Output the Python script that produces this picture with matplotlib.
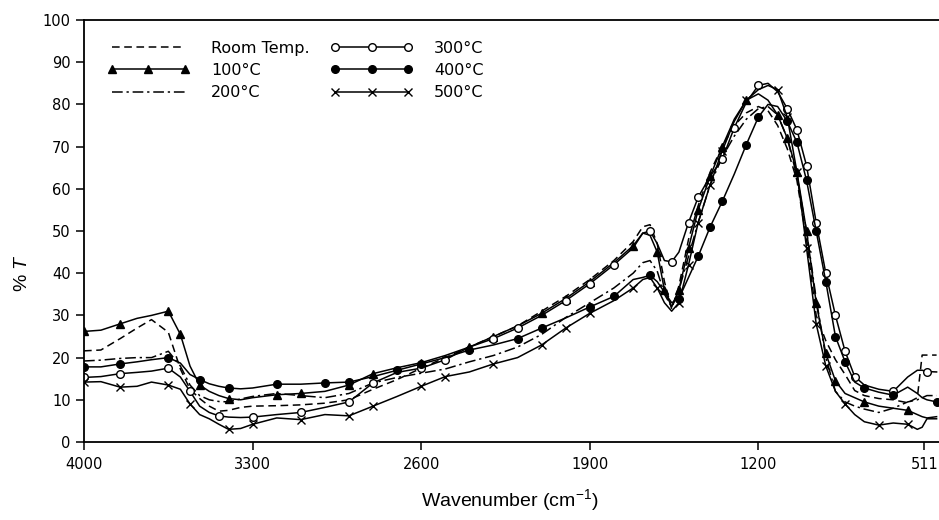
import numpy as np
import matplotlib.pyplot as plt
from matplotlib.lines import Line2D

plt.rcParams['font.family'] = ['DejaVu Sans']
plt.rcParams['mathtext.fontset'] = 'custom'
plt.rcParams['mathtext.rm'] = 'Liberation Sans'
plt.rcParams['mathtext.it'] = 'Liberation Sans:italic'

# shared wavenumber grid (cm-1)
wavenumber = [4000, 3930, 3850, 3780, 3720, 3650, 3600, 3560, 3520, 3480,
              3440, 3400, 3350, 3300, 3200, 3100, 3000, 2900, 2800, 2700,
              2600, 2500, 2400, 2300, 2200, 2100, 2000, 1900, 1800, 1720,
              1680, 1650, 1620, 1590, 1560, 1530, 1490, 1450, 1400, 1350,
              1300, 1250, 1200, 1160, 1120, 1080, 1040, 1000, 960, 920,
              880, 840, 800, 760, 700, 640, 580, 540, 520, 500, 460]

t_room = [21.6, 21.8, 24.5, 27, 29, 26, 17.3, 12.5, 10.3, 8.5,
          7.3, 7.5, 8.2, 8.5, 8.6, 8.8, 9.2, 10, 12.5, 14.8,
          17.5, 20, 22.5, 25, 27.5, 31, 34.5, 38.5, 43, 47.5,
          51, 51.5, 47, 38, 31.5, 37, 48, 56, 64, 70,
          75, 78, 79.5, 78.5, 75, 69.5, 62, 48, 30, 24,
          19.5, 16, 12.2, 11, 10.3, 10, 9.3, 10.5, 20.6, 20.6, 20.6]

t_100 = [26.2, 26.5, 28, 29.3, 30, 31, 25.5, 18, 13.5, 12,
         11, 10.3, 10, 10.5, 11.2, 11.5, 12, 13.5, 16.2, 17.6,
         18.8, 20.5, 22.5, 25, 27.5, 30.5, 34, 38, 42.5, 46.5,
         49.5, 49, 45, 36, 32, 36, 46, 55, 63, 70,
         76.5, 81, 82.5, 81, 77.5, 72, 64, 50, 33, 21,
         14.5, 11.5, 10.5, 9.5, 8.5, 8, 7.5, 6.5, 6, 5.7, 6]

t_200 = [19.2, 19.4, 19.8, 20, 20, 21.5, 18, 13.5, 11, 10,
         9.6, 9.5, 10.2, 10.8, 11.5, 11, 10.5, 11.5, 14, 15.3,
         16.3, 17.3, 19, 20.5, 22.5, 25.5, 29.5, 33, 36.5, 40,
         42.5, 43, 40.5, 35, 32, 36, 44, 52, 61, 67.5,
         72.5, 76.5, 79, 79.5, 77.5, 72, 63, 50, 34, 20,
         12, 9.5, 8.5, 7.8, 7, 8, 9.5, 10, 10.5, 11, 11]

t_300 = [15.3, 15.5, 16.2, 16.5, 16.8, 17.5, 15.4, 12, 8.5, 7,
         6.2, 5.9, 5.8, 5.9, 6.5, 7, 8.2, 9.5, 14, 16.5,
         17.5, 19.5, 22.5, 24.5, 27, 30, 33.5, 37.5, 42, 46,
         49.5, 50, 47, 43, 42.7, 45, 52, 58, 63, 67,
         74.5, 80.5, 84.5, 85, 83, 79, 74, 65.5, 52, 40,
         30, 21.5, 15.5, 13.5, 12.5, 12, 15.4, 17, 17, 16.7, 16.6]

t_400 = [17.8, 17.8, 18.5, 19, 19.5, 20, 18.7, 16, 14.8, 13.8,
         13.2, 12.8, 12.6, 12.8, 13.7, 13.7, 14, 14.2, 15.5, 17,
         18.5, 20, 21.8, 23, 24.5, 27, 29.4, 32, 34.5, 38.5,
         39, 39.5, 38, 35.5, 33, 34, 39, 44, 51, 57,
         63.5, 70.5, 77, 80, 79.5, 76, 71, 62, 50, 38,
         25, 19, 14.2, 12.8, 11.8, 11.1, 13, 11.5, 10.5, 10, 9.5]

t_500 = [14.2, 14.3, 13, 13.2, 14.2, 13.5, 12.5, 9, 6.5, 5.5,
         4.2, 3, 3.2, 4.2, 5.7, 5.3, 6.5, 6.2, 8.5, 10.8,
         13.2, 15.5, 16.6, 18.5, 20, 23, 27, 30.5, 33.5, 36.5,
         38.5, 39, 36.5, 33, 31, 33, 42, 52, 61, 69,
         76, 81, 83.5, 84.5, 83.5, 77, 64, 46, 28, 18,
         12, 9, 6.5, 4.8, 4, 4.5, 4.2, 3, 3.5, 5.5, 5.5]

labels = ['Room Temp.', '100°C', '200°C', '300°C', '400°C', '500°C']
x_ticks = [4000, 3300, 2600, 1900, 1200, 511]

styles = [
    dict(ls=(0, (5, 3)), marker=None),
    dict(ls='-', marker='^', mfc='black', ms=5.5),
    dict(ls=(0, (7, 2.5, 1.5, 2.5)), marker=None),
    dict(ls='-', marker='o', mfc='white', ms=5.5),
    dict(ls='-', marker='o', mfc='black', ms=5.5),
    dict(ls='-', marker='x', mfc='black', ms=5.5),
]
series = [t_room, t_100, t_200, t_300, t_400, t_500]

fig = plt.figure(figsize=(9.39, 5.2), dpi=100)
ax = fig.add_axes([0.0895, 0.15, 0.9105, 0.8115])

handles = []
for y, st, lab in zip(series, styles, labels):
    ax.plot(wavenumber, y, color='black', lw=1.1, ls=st['ls'],
            marker=st['marker'], ms=st.get('ms', 5), mfc=st.get('mfc', 'black'),
            mec='black', mew=1.0, markevery=0.042)
    handles.append(Line2D([], [], color='black', lw=1.1, ls=st['ls'],
                          marker=st['marker'], ms=st.get('ms', 5),
                          mfc=st.get('mfc', 'black'), mec='black', mew=1.0))

ax.set_xlim(4000, 450)
ax.set_ylim(0, 100)
ax.set_xticks(x_ticks)
ax.set_xticklabels([str(v) for v in x_ticks])
ax.set_yticks(np.arange(0, 101, 10))
ax.tick_params(direction='out', length=6, width=1.1, labelsize=10.5, colors='black')
ax.tick_params(axis='x', pad=5)

for s in ['left', 'bottom', 'top']:
    ax.spines[s].set_linewidth(1.3)
ax.spines['right'].set_visible(False)

ax.set_xlabel('Wavenumber (cm$^{-1}$)', fontsize=14, family='Liberation Sans')
ax.set_ylabel(r'% $T$', fontsize=14, family='Liberation Sans')
ax.xaxis.set_label_coords(0.498, -0.108)
ax.yaxis.set_label_coords(-0.062, 0.40)

ax.legend(handles, labels, ncol=2, frameon=False, loc='upper left',
          bbox_to_anchor=(0.01, 0.985), fontsize=11.5, numpoints=3,
          handlelength=5.2, handletextpad=1.3, columnspacing=1.3,
          labelspacing=0.45)

fig.savefig('out.png', dpi=100)
